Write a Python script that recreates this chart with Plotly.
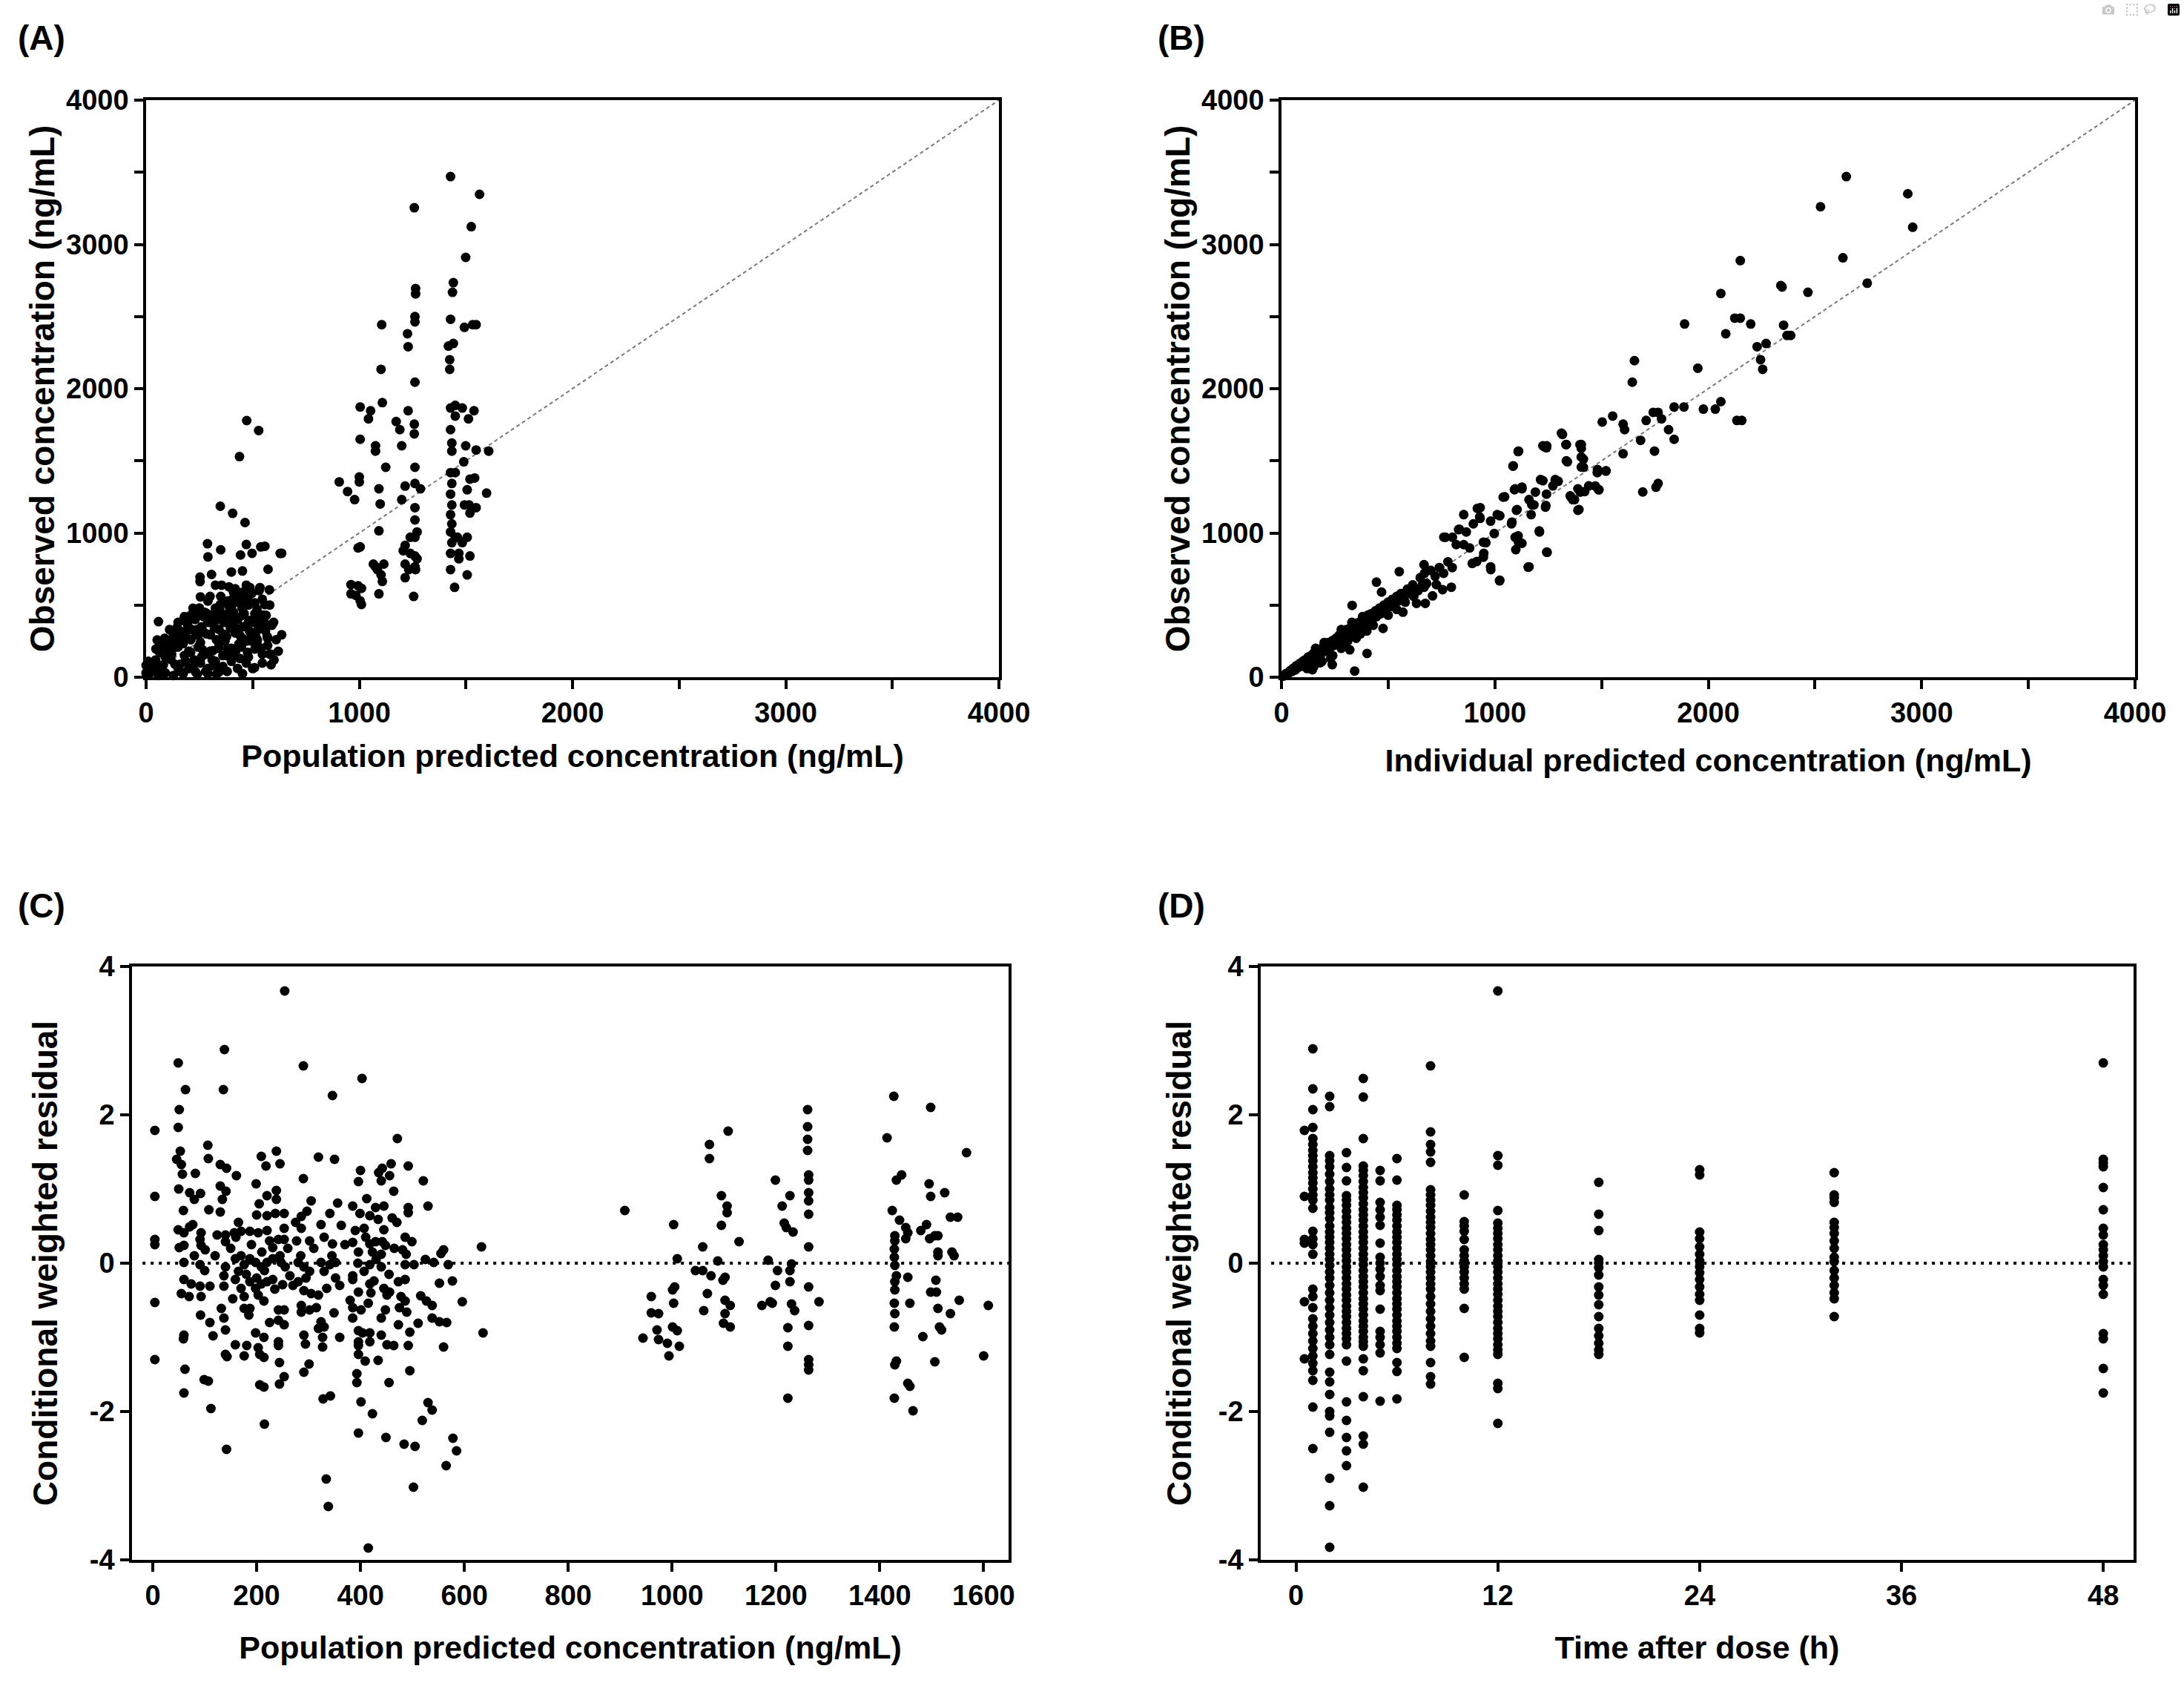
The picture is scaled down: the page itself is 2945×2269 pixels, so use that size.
import plotly.graph_objects as go

W, H = 2945, 2269
FONT = "Arial, 'Liberation Sans', Helvetica, sans-serif"

# ---------------- data ----------------
# Panel A: population predicted (x) vs observed (y), ng/mL
A_low = [
    [472, 1779], [528, 1710], [438, 1529], [348, 1185], [406, 1136], [464, 1072], [288, 925], [350, 883],
    [470, 920], [557, 908], [636, 859], [290, 834], [443, 847], [497, 859], [572, 748], [400, 729],
    [452, 736], [307, 712], [253, 694], [58, 385], [636, 294], [586, 86], [508, 66], [538, 903], [629, 858],
    [253, 663], [325, 638], [354, 638], [389, 626], [418, 613], [470, 638], [487, 621], [534, 621], [578, 606],
    [418, 577], [452, 589], [220, 478], [255, 557], [290, 528], [348, 503], [383, 528], [429, 528], [476, 545],
    [510, 515], [545, 540], [557, 503], [452, 503], [400, 478], [325, 478], [145, 344], [174, 393], [209, 405],
    [244, 429], [284, 442], [319, 429], [360, 405], [383, 442], [418, 417], [452, 429], [487, 393], [522, 405],
    [563, 429], [598, 380], [545, 356], [406, 368], [52, 258], [87, 270], [128, 294], [162, 319], [197, 331],
    [232, 307], [267, 319], [302, 294], [342, 331], [377, 282], [418, 307], [452, 270], [493, 294], [522, 258],
    [568, 282], [46, 196], [70, 221], [104, 184], [139, 209], [174, 233], [209, 172], [244, 209], [278, 160],
    [313, 184], [342, 221], [383, 196], [412, 160], [447, 209], [476, 172], [510, 196], [545, 160], [580, 160],
    [6, 74], [41, 98], [81, 86], [116, 123], [151, 61], [186, 110], [220, 74], [255, 98], [290, 61], [325, 110],
    [360, 74], [400, 110], [429, 61], [470, 98], [545, 98], [12, 25], [58, 12], [128, 12], [174, 25], [232, 37],
    [290, 25], [452, 25], [342, 37], [30, 40], [45, 120], [60, 180], [75, 60], [90, 140], [105, 250], [120, 160],
    [135, 90], [150, 210], [165, 280], [180, 150], [195, 360], [210, 260], [225, 120], [240, 330], [255, 240],
    [270, 420], [285, 300], [300, 180], [315, 380], [330, 260], [345, 470], [360, 300], [375, 150], [390, 420],
    [405, 540], [420, 340], [435, 230], [450, 480], [465, 560], [480, 380], [495, 250], [510, 440], [525, 330],
    [540, 200], [555, 380], [570, 270], [585, 160], [600, 120], [200, 60], [260, 140], [320, 80], [380, 40],
    [440, 130], [500, 60], [350, 560], [410, 590], [300, 560], [250, 480], [180, 420], [130, 300], [100, 220],
    [70, 170], [40, 90], [20, 30], [0, 82], [0, 30], [10, 110],
    [110, 330], [130, 260], [150, 320], [160, 90], [170, 250], [185, 300], [200, 180], [215, 330], [230, 400],
    [245, 290], [260, 350], [265, 190], [275, 450], [290, 380], [300, 430], [310, 120], [320, 340], [335, 400],
    [340, 200], [350, 440], [365, 380], [370, 250], [385, 500], [395, 340], [400, 200], [410, 450], [425, 520],
    [430, 400], [440, 290], [445, 560], [455, 350], [460, 440], [470, 250], [480, 500], [485, 320], [495, 580],
    [505, 380], [515, 280], [520, 470], [530, 600], [535, 350], [548, 430], [560, 320], [570, 220], [580, 500],
    [590, 360], [610, 260], [620, 180], [280, 40], [330, 20], [360, 150], [420, 180], [480, 140], [520, 230],
    [240, 20], [160, 40], [90, 30], [60, 60], [150, 380], [210, 430],
]
A_high = [
    [906, 1354], [945, 1287], [978, 1231], [1000, 1354], [1000, 1388], [1004, 903], [994, 896], [961, 642],
    [994, 634], [984, 567], [1004, 530], [1010, 504], [1004, 1873], [1004, 1649], [961, 578], [1010, 616],
    [1053, 1847], [1043, 1791], [1076, 1604], [1076, 1567], [1092, 1306], [1098, 1201], [1102, 2134],
    [1105, 2444], [1108, 1903], [1092, 1015], [1066, 784], [1085, 746], [1102, 709], [1108, 664], [1092, 578],
    [1124, 1455], [1076, 765], [1115, 784], [1173, 1772], [1199, 1604], [1190, 1716], [1199, 1231],
    [1215, 1325], [1226, 2381], [1229, 2291], [1229, 1847], [1215, 914], [1206, 877], [1215, 784], [1215, 690],
    [1232, 746], [1258, 3254], [1264, 2694], [1264, 2657], [1261, 2500], [1261, 2463], [1261, 2045],
    [1258, 1754], [1258, 1687], [1261, 1455], [1261, 1343], [1261, 1175], [1261, 1090], [1261, 970],
    [1261, 840], [1261, 765], [1255, 560], [1271, 821], [1287, 1306], [1239, 970], [1239, 858], [1271, 1007],
    [1264, 746], [1428, 3470], [1441, 2735], [1437, 2668], [1428, 2481], [1441, 2313], [1418, 2295],
    [1424, 2201], [1424, 2134], [1428, 1866], [1428, 1716], [1434, 1623], [1434, 1567], [1428, 1418],
    [1434, 1343], [1428, 1269], [1434, 1194], [1428, 1127], [1434, 1063], [1428, 1007], [1434, 933],
    [1428, 858], [1428, 746], [1447, 623], [1450, 1884], [1450, 1810], [1467, 821], [1460, 970], [1450, 1418],
    [1483, 1866], [1490, 1493], [1493, 1194], [1499, 2910], [1493, 2425], [1499, 1604], [1506, 1299],
    [1506, 709], [1506, 970], [1515, 1194], [1512, 1791], [1525, 3123], [1519, 1373], [1519, 1138],
    [1519, 840], [1532, 2444], [1548, 2444], [1538, 1847], [1541, 1381], [1548, 1175], [1548, 1575],
    [1564, 3347], [1597, 1276], [1607, 1567], [1467, 858], [1450, 970], [1483, 933],
]

# Panel B: individual predicted (x) vs observed (y), ng/mL
B_points = [
    [2647, 3470], [2935, 3351], [2526, 3261], [2958, 3119], [2150, 2888], [2631, 2907], [2745, 2731],
    [2346, 2705], [2340, 2715], [2467, 2668], [2059, 2660], [1889, 2448], [2199, 2448], [2124, 2489],
    [2150, 2489], [2082, 2381], [2353, 2440], [2369, 2369], [2386, 2369], [2271, 2313], [2229, 2291],
    [2245, 2201], [2255, 2134], [1951, 2142], [1654, 2194], [1644, 2045], [2059, 1910], [1977, 1858],
    [2033, 1858], [2134, 1780], [2157, 1780], [1840, 1873], [1886, 1873], [1742, 1836], [1765, 1836],
    [1781, 1791], [1709, 1780], [1552, 1810], [1503, 1769], [1601, 1754], [1608, 1716], [1814, 1716],
    [1840, 1649], [1683, 1642], [1601, 1549], [1748, 1567], [1693, 1284], [1765, 1343], [1755, 1317],
    [1317, 1683], [1111, 1567], [1232, 1597], [1242, 1590], [1333, 1612], [1399, 1612], [1405, 1586],
    [1415, 1511], [1340, 1493], [1085, 1463], [1520, 1429], [1480, 1418], [1415, 1455], [1297, 1358],
    [1225, 1362], [1095, 1306], [1127, 1306], [1046, 1250], [1160, 1231], [1242, 1269], [1389, 1306],
    [1421, 1287], [1471, 1325], [1487, 1299], [1356, 1250], [1373, 1231], [1239, 1190], [1183, 1194],
    [1170, 1127], [1389, 1157], [1101, 1157], [931, 1175], [931, 1101], [899, 1063], [980, 1082],
    [1023, 1119], [1078, 1063], [866, 1007], [833, 1026], [801, 970], [768, 970], [997, 996], [958, 933],
    [882, 896], [948, 858], [1095, 970], [1111, 933], [1209, 1007], [1245, 866], [1160, 765], [1023, 672],
    [980, 765], [915, 802], [1086, 1465], [1109, 1564], [1092, 1300], [1127, 1318], [1104, 1162],
    [1080, 1075], [1109, 980], [1098, 884], [1127, 928], [1156, 763], [1208, 1014], [1243, 867],
    [1173, 1196], [1190, 1283], [1214, 1370], [1237, 1179], [1225, 1604], [1243, 1604], [1312, 1691],
    [1335, 1613], [1335, 1500], [1283, 1370], [1272, 1326], [1353, 1257], [1365, 1231], [1394, 1162],
    [1405, 1613], [1405, 1526], [1405, 1457], [1400, 1283], [1440, 1326], [1481, 1439], [1487, 1300],
    [1521, 1430], [761, 971], [819, 919], [854, 919], [894, 789], [830, 1023], [854, 1127], [918, 1170],
    [929, 1110], [946, 936], [946, 832], [981, 746], [1022, 668], [1011, 1127], [1039, 1248],
    [343, 43], [401, 165], [238, 87], [145, 52], [476, 338], [569, 451], [331, 498], [445, 659], [552, 732],
    [469, 590], [633, 512], [674, 512], [708, 564], [755, 607], [796, 624], [726, 642], [668, 624], [621, 590],
    [668, 780], [10, 8], [20, 25], [30, 22], [40, 45], [50, 40], [55, 62], [65, 50], [70, 80], [80, 70],
    [85, 95], [90, 75], [100, 110], [105, 90], [110, 120], [120, 105], [125, 140], [130, 115], [140, 150],
    [145, 125], [150, 165], [160, 140], [165, 180], [170, 150], [180, 195], [185, 160], [190, 170], [200, 215],
    [205, 180], [210, 190], [220, 240], [225, 200], [230, 210], [240, 255], [245, 220], [250, 230], [255, 270],
    [260, 235], [270, 290], [275, 250], [280, 260], [290, 310], [295, 270], [300, 280], [305, 330], [310, 285],
    [320, 300], [325, 345], [330, 310], [340, 360], [345, 320], [350, 330], [355, 375], [360, 340], [370, 385],
    [375, 350], [380, 360], [390, 410], [395, 370], [400, 380], [405, 430], [410, 390], [420, 440], [425, 400],
    [430, 410], [440, 460], [445, 420], [450, 430], [460, 480], [465, 440], [470, 455], [480, 500], [485, 460],
    [490, 470], [500, 520], [510, 490], [520, 540], [530, 510], [540, 560], [550, 530], [560, 580], [575, 560],
    [590, 610], [600, 580], [615, 640], [630, 610], [640, 600], [650, 690], [660, 640], [670, 720], [680, 650],
    [700, 740], [720, 700], [740, 760], [760, 720], [780, 800], [800, 760], [150, 70], [190, 110], [240, 150],
    [290, 230], [320, 190], [280, 200], [350, 270], [400, 320], [230, 130], [180, 100], [120, 60], [310, 250],
    [370, 300], [430, 360], [500, 430], [540, 470], [580, 520], [620, 560], [380, 420], [330, 380], [280, 330],
    [200, 240], [160, 200],
]

# Panel C: population predicted (x, ng/mL) vs CWRES (y)
C_low = [
    [254, 3.67], [138, 2.88], [49, 2.70], [290, 2.66], [403, 2.49], [63, 2.34], [136, 2.34], [346, 2.26],
    [51, 2.07], [49, 1.83], [4, 1.79], [471, 1.68], [106, 1.59], [53, 1.51], [238, 1.51], [46, 1.40],
    [107, 1.41], [209, 1.44], [319, 1.43], [350, 1.40], [55, 1.33], [130, 1.33], [142, 1.28], [218, 1.31],
    [245, 1.34], [459, 1.34], [442, 1.28], [492, 1.31], [161, 1.18], [57, 1.20], [290, 1.14], [400, 1.25],
    [435, 1.22], [521, 1.11], [396, 1.10], [456, 1.18], [199, 1.07], [440, 1.11], [50, 1.00], [82, 1.21],
    [71, 0.95], [92, 0.94], [130, 1.04], [141, 0.97], [220, 0.91], [238, 0.98], [238, 0.86], [464, 0.97],
    [4, 0.90], [80, 0.86], [134, 0.86], [530, 0.77], [59, 0.71], [108, 0.72], [130, 0.69], [356, 0.81],
    [305, 0.84], [385, 0.77], [492, 0.75], [492, 0.68], [429, 0.75], [445, 0.77], [399, 0.67], [412, 0.87],
    [297, 0.70], [286, 0.63], [200, 0.65], [220, 0.64], [236, 0.67], [253, 0.67], [341, 0.67], [461, 0.61],
    [470, 0.55], [418, 0.64], [434, 0.59], [324, 0.52], [363, 0.51], [71, 0.49], [77, 0.52], [49, 0.45],
    [170, 0.43], [187, 0.43], [286, 0.47], [390, 0.44], [407, 0.47], [499, 0.29], [486, 0.35], [93, 0.41],
    [60, 0.41], [91, 0.32], [124, 0.38], [140, 0.38], [157, 0.41], [203, 0.41], [220, 0.44], [253, 0.47],
    [242, 0.32], [253, 0.32], [302, 0.30], [277, 0.30], [4, 0.32], [4, 0.25], [51, 0.21], [60, 0.24],
    [93, 0.24], [101, 0.18], [140, 0.29], [231, 0.21], [346, 0.26], [385, 0.28], [418, 0.26], [429, 0.29],
    [442, 0.29], [448, 0.24], [423, 0.15], [440, 0.12], [481, 0.18], [488, 0.12], [525, 0.05], [555, 0.13],
    [560, 0.18], [633, 0.22], [60, 0.01], [91, -0.02], [140, -0.05], [159, 0.06], [165, -0.11], [176, -0.02],
    [187, 0.06], [198, 0.01], [209, -0.05], [220, 0.01], [231, 0.06], [247, 0.01], [264, -0.17], [280, 0.01],
    [291, -0.05], [302, -0.11], [324, 0.01], [330, -0.11], [341, -0.02], [352, 0.01], [396, 0.15],
    [385, -0.17], [407, -0.11], [418, -0.02], [440, -0.05], [486, -0.02], [503, -0.02], [541, 0.01],
    [569, -0.02], [60, -0.22], [74, -0.28], [91, -0.31], [110, -0.31], [137, -0.17], [137, -0.31],
    [159, -0.22], [170, -0.34], [187, -0.25], [198, -0.34], [209, -0.28], [220, -0.25], [231, -0.22],
    [250, -0.29], [280, -0.25], [291, -0.37], [305, -0.41], [319, -0.43], [335, -0.34], [352, -0.20],
    [385, -0.22], [396, -0.39], [418, -0.28], [426, -0.24], [445, -0.34], [456, -0.39], [473, -0.25],
    [486, -0.22], [516, -0.44], [552, -0.27], [577, -0.24], [55, -0.41], [93, -0.45], [154, -0.48],
    [176, -0.45], [203, -0.43], [214, -0.51], [286, -0.57], [302, -0.63], [385, -0.60], [401, -0.63],
    [415, -0.54], [451, -0.43], [478, -0.45], [486, -0.51], [527, -0.51], [538, -0.57], [596, -0.52],
    [132, -0.61], [176, -0.61], [187, -0.61], [242, -0.63], [253, -0.63], [286, -0.66], [349, -0.67],
    [385, -0.74], [448, -0.63], [489, -0.66], [538, -0.74], [552, -0.79], [566, -0.80], [92, -0.70],
    [110, -0.80], [137, -0.74], [242, -0.77], [253, -0.83], [324, -0.79], [330, -0.86], [319, -0.88],
    [440, -0.74], [473, -0.83], [511, -0.81], [396, -0.91], [404, -0.94], [418, -0.94], [60, -0.97],
    [116, -0.98], [140, -0.90], [198, -0.94], [214, -1.00], [291, -0.97], [327, -1.00], [360, -1.00],
    [396, -1.06], [418, -1.06], [440, -0.97], [495, -0.93], [636, -0.94], [59, -1.02], [159, -1.10],
    [181, -1.11], [203, -1.14], [242, -1.06], [242, -1.11], [294, -1.09], [327, -1.13], [396, -1.11],
    [451, -1.10], [464, -1.11], [492, -1.11], [560, -1.13], [4, -1.30], [4, -0.53], [140, -1.23],
    [143, -1.26], [176, -1.25], [206, -1.23], [214, -1.27], [244, -1.34], [396, -1.23], [409, -1.32],
    [434, -1.31], [495, -1.45], [62, -1.43], [291, -1.47], [301, -1.36], [99, -1.57], [107, -1.59],
    [206, -1.64], [214, -1.67], [244, -1.63], [253, -1.53], [393, -1.49], [393, -1.61], [455, -1.61],
    [60, -1.75], [112, -1.96], [401, -1.87], [423, -2.03], [328, -1.83], [342, -1.79], [519, -2.12],
    [530, -1.88], [538, -1.98], [396, -2.29], [449, -2.35], [484, -2.44], [505, -2.47], [578, -2.36],
    [585, -2.53], [565, -2.73], [142, -2.51], [215, -2.17], [334, -2.91], [338, -3.28], [502, -3.02],
    [415, -3.84],
    [150, 0.20], [160, 0.35], [170, 0.10], [180, -0.15], [190, 0.25], [200, -0.20], [210, 0.15],
    [215, -0.10], [225, 0.30], [235, -0.35], [245, 0.10], [255, -0.05], [260, 0.20], [270, -0.30],
    [275, 0.55], [285, 0.10], [295, -0.20], [310, 0.20], [315, -0.60], [330, 0.35], [345, 0.10],
    [360, -0.30], [370, 0.25], [380, -0.50], [395, 0.00], [410, 0.35], [420, -0.40], [430, 0.05],
    [445, 0.45], [455, -0.15], [465, 0.20], [475, -0.60], [165, 0.55], [185, -0.70], [205, 0.80],
    [225, -0.80], [120, 0.10], [100, -0.10], [80, 0.10], [70, -0.45],
]
C_high = [
    [909, 0.71], [944, -1.01], [960, -0.45], [960, -0.67], [974, -0.68], [971, -0.90], [974, -1.03],
    [991, -1.08], [994, -1.25], [1001, -0.36], [1003, -0.54], [1003, 0.52], [1001, -0.86], [1010, 0.06],
    [1010, -0.91], [1014, -1.12], [1005, -0.32], [1045, -0.10], [1059, -0.10], [1059, 0.22], [1061, -0.64],
    [1068, -0.41], [1072, 1.60], [1072, 1.41], [1075, -0.17], [1088, 0.03], [1095, 0.91], [1095, 0.51],
    [1098, -0.23], [1102, -0.19], [1102, -0.50], [1102, -0.68], [1106, 0.77], [1106, 0.68], [1099, -0.81],
    [1108, 1.78], [1112, -0.86], [1112, -0.57], [1129, 0.29], [1173, -0.57], [1185, 0.04], [1189, -0.52],
    [1193, -0.54], [1199, 1.12], [1199, -0.30], [1203, -0.10], [1212, 0.77], [1216, 0.54], [1220, 0.48],
    [1223, -1.82], [1223, -1.12], [1223, -0.87], [1227, 0.91], [1227, -0.10], [1230, -0.01], [1233, 0.42],
    [1230, -0.55], [1236, -0.64], [1227, -0.25], [1261, 2.07], [1261, 1.84], [1261, 1.67], [1261, 1.52],
    [1263, 1.19], [1263, 1.12], [1263, 0.95], [1263, 0.84], [1263, 0.66], [1263, 0.22], [1263, -0.32],
    [1263, -0.84], [1263, -1.30], [1263, -1.44], [1263, -1.37], [1283, -0.52], [1414, 1.69], [1424, 0.71],
    [1427, 2.25], [1432, 1.12], [1429, 0.37], [1429, 0.30], [1428, 0.19], [1428, 0.08], [1429, -0.03],
    [1432, -0.17], [1429, -0.25], [1429, -0.36], [1428, -0.54], [1429, -0.68], [1428, -0.86], [1432, -1.32],
    [1429, -1.37], [1428, -1.82], [1438, 0.58], [1442, 1.19], [1450, 0.48], [1450, 0.33], [1454, 0.41],
    [1454, -0.19], [1454, -1.62], [1458, -1.66], [1458, -0.54], [1464, -1.99], [1479, 0.44], [1483, -0.99],
    [1490, 0.52], [1495, 1.07], [1496, 0.33], [1498, -0.39], [1498, 2.10], [1498, 0.90], [1506, 0.37],
    [1506, -1.33], [1508, -0.23], [1509, -0.39], [1512, 0.37], [1512, 0.10], [1512, 0.15], [1512, -0.61],
    [1515, -0.86], [1519, -0.90], [1525, 0.95], [1536, 0.62], [1536, -0.68], [1539, 0.15], [1543, 0.10],
    [1550, 0.62], [1553, -0.50], [1567, 1.49], [1600, -1.25], [1609, -0.57],
]

# Panel D: time after dose (h) and CWRES values observed at each nominal time
D_times = [0.5, 1, 2, 3, 4, 5, 6, 8, 10, 12, 18, 24, 32, 48]
D_cwres = [
    [1.79, 0.90, 0.32, 0.27, -0.52, -1.29],
    [2.89, 2.35, 2.07, 1.83, 1.68, 1.60, 1.52, 1.45, 1.38, 1.30, 1.22, 1.15, 1.08, 1.00, 0.92, 0.85, 0.74,
     0.43, 0.33, 0.25, 0.12, -0.35, -0.45, -0.60, -0.75, -0.85, -0.95, -1.05, -1.15, -1.25, -1.35, -1.45,
     -1.58, -1.94, -2.50],
    [2.25, 2.11, 1.45, 1.38, 1.30, 1.20, 1.10, 1.00, 0.92, 0.85, 0.75, 0.68, 0.60, 0.50, 0.42, 0.35, 0.28,
     0.20, 0.12, 0.05, -0.03, -0.12, -0.20, -0.30, -0.40, -0.50, -0.60, -0.70, -0.80, -0.90, -1.00, -1.10,
     -1.23, -1.47, -1.60, -1.77, -2.00, -2.06, -2.28, -2.90, -3.27, -3.83],
    [1.49, 1.29, 1.11, 0.91, 0.85, 0.78, 0.70, 0.62, 0.55, 0.47, 0.40, 0.33, 0.25, 0.18, 0.10, 0.03, -0.05,
     -0.12, -0.20, -0.28, -0.35, -0.43, -0.50, -0.58, -0.65, -0.72, -0.80, -0.88, -0.95, -1.02, -1.10,
     -1.32, -1.87, -2.12, -2.35, -2.53, -2.73],
    [2.49, 2.24, 1.68, 1.31, 1.25, 1.18, 1.10, 1.02, 0.95, 0.88, 0.80, 0.72, 0.65, 0.58, 0.50, 0.42, 0.35,
     0.28, 0.20, 0.12, 0.05, -0.02, -0.10, -0.18, -0.25, -0.32, -0.40, -0.48, -0.55, -0.62, -0.70, -0.78,
     -0.85, -0.92, -1.00, -1.06, -1.12, -1.29, -1.45, -1.80, -2.33, -2.44, -3.02],
    [1.25, 1.11, 0.82, 0.72, 0.62, 0.51, 0.27, 0.08, 0.00, -0.08, -0.18, -0.30, -0.37, -0.62, -0.92, -1.00,
     -1.10, -1.21, -1.86],
    [1.41, 1.12, 0.78, 0.72, 0.65, 0.58, 0.50, 0.42, 0.35, 0.28, 0.20, 0.12, 0.05, -0.02, -0.10, -0.18,
     -0.25, -0.32, -0.40, -0.48, -0.55, -0.62, -0.70, -0.78, -0.85, -0.92, -1.00, -1.08, -1.15, -1.34,
     -1.46, -1.83],
    [2.66, 1.77, 1.60, 1.50, 1.36, 0.99, 0.92, 0.85, 0.78, 0.70, 0.62, 0.55, 0.48, 0.40, 0.32, 0.25, 0.18,
     0.10, 0.02, -0.05, -0.12, -0.20, -0.28, -0.35, -0.45, -0.55, -0.65, -0.75, -0.85, -0.95, -1.05, -1.12,
     -1.34, -1.53, -1.63],
    [0.92, 0.56, 0.50, 0.43, 0.32, 0.18, 0.10, 0.03, -0.05, -0.12, -0.20, -0.28, -0.35, -0.61, -1.27],
    [3.67, 1.45, 1.32, 0.71, 0.54, 0.47, 0.40, 0.33, 0.25, 0.18, 0.10, 0.03, -0.05, -0.12, -0.20, -0.28,
     -0.35, -0.42, -0.50, -0.58, -0.65, -0.72, -0.80, -0.88, -0.95, -1.02, -1.10, -1.17, -1.23, -1.62,
     -1.69, -2.16],
    [1.09, 0.66, 0.44, 0.05, 0.00, -0.06, -0.16, -0.32, -0.43, -0.56, -0.72, -0.88, -0.98, -1.08, -1.17,
     -1.23],
    [1.26, 1.19, 0.42, 0.33, 0.22, 0.12, 0.03, -0.05, -0.13, -0.22, -0.32, -0.42, -0.50, -0.70, -0.88,
     -0.94],
    [1.22, 0.92, 0.88, 0.82, 0.55, 0.48, 0.40, 0.30, 0.20, 0.08, 0.02, -0.10, -0.20, -0.30, -0.40, -0.48,
     -0.72],
    [2.70, 1.40, 1.35, 1.30, 1.02, 0.72, 0.47, 0.38, 0.25, 0.18, 0.10, 0.02, -0.05, -0.22, -0.30, -0.42,
     -0.95, -1.02, -1.42, -1.75],
]

CONC_MAX = 4000
CONC_TICKS = [0, 1000, 2000, 3000, 4000]
CWRES_TICKS = [-4, -2, 0, 2, 4]
CWRES_TICKTEXT = ["-4", "-2", "0", "2", "4"]
TIME_TICKS = [0, 12, 24, 36, 48]
X_TITLES = ["Population predicted concentration (ng/mL)", "Individual predicted concentration (ng/mL)",
            "Population predicted concentration (ng/mL)", "Time after dose (h)"]
Y_TITLES = ["Observed concentration (ng/mL)", "Observed concentration (ng/mL)",
            "Conditional weighted residual", "Conditional weighted residual"]
PANEL_LABELS = ["(A)", "(B)", "(C)", "(D)"]


def unzip(pairs):
    return [p[0] for p in pairs], [p[1] for p in pairs]


ax_a, ay_a = unzip(A_low + A_high)
bx, by = unzip(B_points)
cx, cy = unzip(C_low + C_high)
dx, dy = [], []
for t, vals in zip(D_times, D_cwres):
    dx += [t] * len(vals)
    dy += vals

marker = dict(color="black", size=13, line=dict(width=0))
fig = go.Figure()
for (xs, ys, xa, ya) in [(ax_a, ay_a, "x", "y"), (bx, by, "x2", "y2"),
                         (cx, cy, "x3", "y3"), (dx, dy, "x4", "y4")]:
    fig.add_trace(go.Scatter(x=xs, y=ys, mode="markers", marker=marker, xaxis=xa, yaxis=ya,
                             showlegend=False, cliponaxis=False, hoverinfo="skip"))


# ---------------- layout ----------------
def px_x(p):
    return p / W


def px_y(p):
    return 1 - p / H


tickfont = dict(family=FONT, size=38, color="black", weight="bold")
xtitlefont = dict(family=FONT, size=43, color="black", weight="bold")
ytitlefont = dict(family=FONT, size=46, color="black", weight="bold")

base = dict(showline=True, linecolor="black", linewidth=3.5, mirror=True, ticks="outside",
            ticklen=12, tickwidth=3.5, tickcolor="black", showgrid=False, zeroline=False,
            tickfont=tickfont, automargin=False, fixedrange=True)

dom = {
    1: ([px_x(197), px_x(1347)], [px_y(913), px_y(135)]),
    2: ([px_x(1728), px_x(2879)], [px_y(913), px_y(135)]),
    3: ([px_x(178), px_x(1360)], [px_y(2103), px_y(1303)]),
    4: ([px_x(1700), px_x(2877)], [px_y(2103), px_y(1303)]),
}

layout = dict(width=W, height=H, margin=dict(l=0, r=0, t=0, b=0), plot_bgcolor="white",
              paper_bgcolor="white", showlegend=False)

minor = dict(ticks="outside", ticklen=12, tickwidth=3.5, tickcolor="black", dtick=500, showgrid=False)
for i in (1, 2):
    s = "" if i == 1 else str(i)
    layout["xaxis" + s] = dict(base, domain=dom[i][0], range=[0, CONC_MAX], tickvals=CONC_TICKS,
                               minor=minor, anchor="y" + s,
                               title=dict(text=X_TITLES[i - 1], font=xtitlefont,
                                          standoff=24 if i == 1 else 30))
    layout["yaxis" + s] = dict(base, domain=dom[i][1], range=[0, CONC_MAX], tickvals=CONC_TICKS,
                               minor=minor, anchor="x" + s,
                               title=dict(text=Y_TITLES[i - 1], font=ytitlefont, standoff=2))

layout["xaxis3"] = dict(base, domain=dom[3][0], range=[-40, 1648], tick0=0, dtick=200, anchor="y3",
                        title=dict(text=X_TITLES[2], font=xtitlefont, standoff=36))
layout["yaxis3"] = dict(base, domain=dom[3][1], range=[-4, 4], tickvals=CWRES_TICKS,
                        ticktext=CWRES_TICKTEXT, anchor="x3",
                        title=dict(text=Y_TITLES[2], font=ytitlefont, standoff=30))
layout["xaxis4"] = dict(base, domain=dom[4][0], range=[-2.1, 49.8], tickvals=TIME_TICKS,
                        anchor="y4", title=dict(text=X_TITLES[3], font=xtitlefont, standoff=36))
layout["yaxis4"] = dict(base, domain=dom[4][1], range=[-4, 4], tickvals=CWRES_TICKS,
                        ticktext=CWRES_TICKTEXT, anchor="x4",
                        title=dict(text=Y_TITLES[3], font=ytitlefont, standoff=23))

shapes = []
for s in ("", "2"):
    shapes.append(dict(type="line", xref="x" + s, yref="y" + s, x0=0, y0=0, x1=CONC_MAX, y1=CONC_MAX,
                       line=dict(color="#7a7a7a", width=2, dash="5px,4px"), layer="below"))
for s in ("3", "4"):
    shapes.append(dict(type="line", xref="x" + s + " domain", yref="y" + s, x0=0.012, x1=1, y0=0, y1=0,
                       line=dict(color="black", width=4, dash="4px,7px"), layer="below"))
layout["shapes"] = shapes

annots = []
for lab, (x, y) in zip(PANEL_LABELS, [(22, 51), (1559, 51), (22, 1221), (1559, 1221)]):
    annots.append(dict(text=lab, x=px_x(x), y=px_y(y), xref="paper", yref="paper", xanchor="left",
                       yanchor="middle", showarrow=False,
                       font=dict(family=FONT, size=46, color="black", weight="bold")))
layout["annotations"] = annots

fig.update_layout(layout)
fig.write_html("out.html", post_script="document.body.style.margin='0';")
